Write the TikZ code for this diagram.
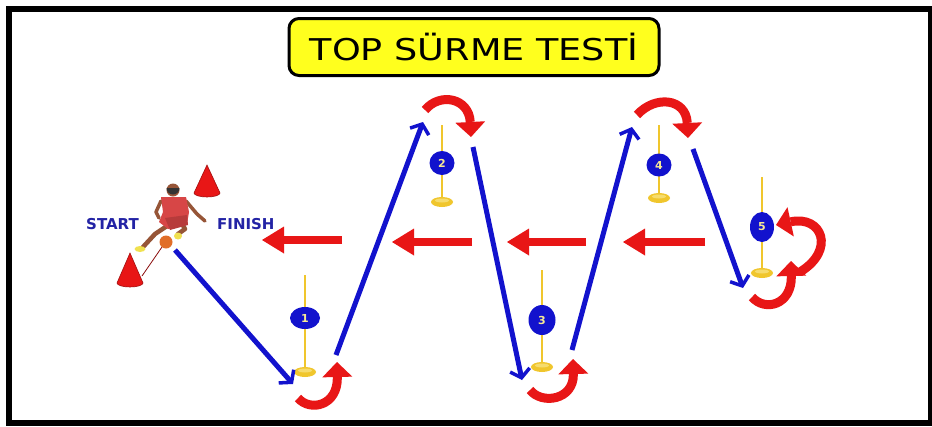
\documentclass[tikz,border=0pt]{standalone}
\usepackage{fontspec}
\setmainfont{DejaVu Sans}
\newfontfamily\titlefont[FakeStretch=1.22]{DejaVu Sans}
\usetikzlibrary{arrows.meta,shapes.geometric}
\definecolor{runblue}{RGB}{18,18,205}
\definecolor{conered}{RGB}{232,22,22}
\definecolor{polegold}{RGB}{240,198,45}
\definecolor{polelight}{RGB}{246,220,110}
\definecolor{labelblue}{RGB}{35,35,165}
\definecolor{digit}{RGB}{246,232,150}
\definecolor{skin}{RGB}{150,85,55}
\definecolor{jersey}{RGB}{215,70,70}
\definecolor{shoe}{RGB}{240,225,80}
\definecolor{ballorange}{RGB}{225,110,40}
\definecolor{titleyellow}{RGB}{255,255,30}
\begin{document}
\begin{tikzpicture}[x=1pt,y=-1pt,
  run/.style={draw=runblue, line width=5pt,
    -{Straight Barb[length=8pt,width=20pt,line width=3.5pt]}},
  back/.style={draw=conered, line width=8.5pt,
    -{Triangle[length=22pt,width=27pt,line width=0pt]}},
  turn/.style={draw=conered, line width=9pt,
    -{Triangle[length=15pt,width=30pt,line width=0pt]}},
  polestick/.style={draw=polegold, line width=2.6pt},
  polebase/.style={fill=polegold},
  numtag/.style={ellipse, fill=runblue, inner sep=0pt, text=digit,
    font=\fontsize{11}{11}\selectfont\bfseries},
  startlabel/.style={text=labelblue, font=\fontsize{15}{15}\selectfont\bfseries, inner sep=0pt},
  cone/.style={fill=conered, draw=conered!70!black, line width=0.6pt}
]
\useasboundingbox (0,0) rectangle (932,426);
\fill[white] (0,0) rectangle (932,426);

% outer frame
\draw[line width=6pt] (9,9) rectangle (931,423);

% title plate
\node[draw=black, line width=3pt, fill=titleyellow, rounded corners=10pt,
      minimum width=370pt, minimum height=57pt, inner sep=0pt] (title) at (474,47)
  {\titlefont\fontsize{30}{30}\selectfont TOP SÜRME TESTİ};

% cones
\draw[cone] (207,165) -- (220,193) arc[start angle=0,end angle=180,x radius=13,y radius=4] -- cycle;
\draw[cone] (130,253) -- (143,283) arc[start angle=0,end angle=180,x radius=13,y radius=4] -- cycle;

% tether from ball to lower cone
\draw[draw=conered!60!black, line width=0.8pt] (162,247) -- (142,276);

% dribbling player
\begin{scope}[line cap=round, line join=round]
  % legs
  \draw[skin, line width=4.5pt] (170,224) -- (155,234) -- (143,247);
  \draw[skin, line width=4.5pt] (181,222) -- (185,229) -- (178,234);
  % arms
  \draw[skin, line width=3.5pt] (161,201) -- (156,212) -- (159,218);
  \draw[skin, line width=3.5pt] (186,201) -- (197,214) -- (205,221);
  % torso and shorts
  \fill[jersey] (161,197) -- (186,197) -- (189,212) -- (187,224) -- (168,229) -- (159,222) -- (163,212) -- cycle;
  \fill[jersey!85!black] (165,218) -- (187,215) -- (188,225) -- (170,230) -- cycle;
  % head
  \fill[skin] (173,190) circle[radius=6.5];
  \fill[black!80] (166.5,188) arc[start angle=180,end angle=0,radius=6.5] -- cycle;
  % shoes
  \fill[shoe] (140,249) ellipse[x radius=5.5,y radius=3];
  \fill[shoe] (178,236) ellipse[x radius=4,y radius=3.5];
  % ball
  \fill[ballorange] (166,242) circle[radius=6.5];
\end{scope}

% start / finish labels
\node[startlabel, anchor=west] (start) at (86,224) {START};
\node[startlabel, anchor=west] (finish) at (217,224) {FINISH};

% poles: stick, base and numbered tag
\foreach \px/\ptop/\pbase/\nlabel/\tw/\th/\ty in
  {305/275/372/1/30/22/318, 442/125/202/2/25/24/163, 542/270/367/3/27/30/320,
   659/125/198/4/25/23/165, 762/177/273/5/24/30/227}{
  \draw[polestick] (\px,\ptop) -- (\px,\pbase);
  \fill[polebase] (\px,\pbase) ellipse[x radius=11,y radius=5];
  \fill[polelight] (\px,\pbase-1.5) ellipse[x radius=7,y radius=2];
  \node[numtag, minimum width=\tw pt, minimum height=\th pt] (tag\nlabel) at (\px,\ty) {\nlabel};
}

% blue running route
\coordinate (r0) at (175,250);
\coordinate (r1) at (293,384);
\coordinate (r2) at (336,355);
\coordinate (r3) at (423,122);
\coordinate (r4) at (473,147);
\coordinate (r5) at (522,380);
\coordinate (r6) at (572,350);
\coordinate (r7) at (632,127);
\coordinate (r8) at (693,149);
\coordinate (r9) at (743,288);
\draw[run] (r0) -- (r1);
\draw[run] (r2) -- (r3);
\draw[run] (r4) -- (r5);
\draw[run] (r6) -- (r7);
\draw[run] (r8) -- (r9);

% red return arrows
\coordinate (b1t) at (342,240); \coordinate (b1h) at (262,240);
\coordinate (b2t) at (472,242); \coordinate (b2h) at (392,242);
\coordinate (b3t) at (586,242); \coordinate (b3h) at (507,242);
\coordinate (b4t) at (705,242); \coordinate (b4h) at (623,242);
\draw[back] (b1t) -- (b1h);
\draw[back] (b2t) -- (b2h);
\draw[back] (b3t) -- (b3h);
\draw[back] (b4t) -- (b4h);

% red turning arrows round the poles
\coordinate (t1a) at (298,398); \coordinate (t1b) at (337,362);
\coordinate (t2a) at (425,110); \coordinate (t2b) at (471,137);
\coordinate (t3a) at (530,390); \coordinate (t3b) at (573,359);
\coordinate (t4a) at (637,115); \coordinate (t4b) at (688,138);
\coordinate (t5a) at (800,272); \coordinate (t5b) at (776,225);
\coordinate (t6a) at (752,297); \coordinate (t6b) at (791,261);
\draw[turn] (t1a) .. controls (310,412) and (338,406) .. (t1b);
\draw[turn] (t2a) .. controls (440,92) and (469,98) .. (t2b);
\draw[turn] (t3a) .. controls (542,405) and (574,400) .. (t3b);
\draw[turn] (t4a) .. controls (655,95) and (686,98) .. (t4b);
\draw[turn] (t5a) .. controls (836,250) and (822,215) .. (t5b);
\draw[turn] (t6a) .. controls (765,312) and (792,305) .. (t6b);
\end{tikzpicture}
\end{document}
